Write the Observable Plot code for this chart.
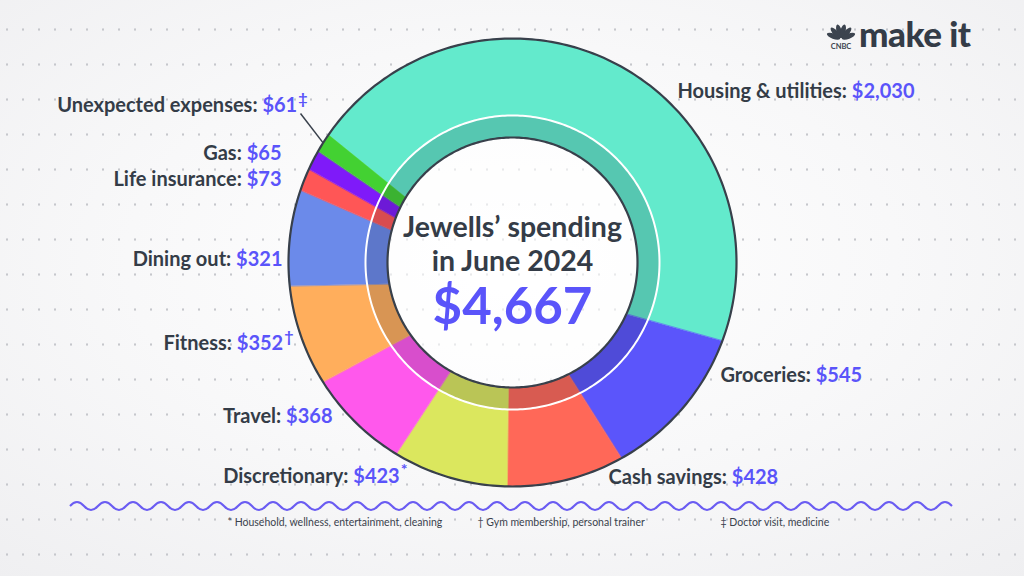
<!DOCTYPE html>
<html><head><meta charset="utf-8">
<script src="https://cdn.jsdelivr.net/npm/d3@7"></script>
<script src="https://cdn.jsdelivr.net/npm/@observablehq/plot@0.6"></script>
<style>
html,body{margin:0;padding:0;}
body{width:1024px;height:576px;overflow:hidden;font-family:Lato,"Open Sans",sans-serif;
 background:radial-gradient(ellipse 75% 75% at 50% 45%, #ffffff 0%, #f8f8f9 50%, #efeff1 100%);}
#wrap{position:relative;width:1024px;height:576px;}
#dots{position:absolute;left:0;top:0;width:1024px;height:576px;
 background-image:radial-gradient(circle, #c6c7cc 0.9px, transparent 1.4px);
 background-size:16px 35px;background-position:-1px 12px;}
#chart{position:absolute;left:0;top:0;}
#deco{position:absolute;left:0;top:0;pointer-events:none;}
#logo{position:absolute;left:826px;top:16px;display:flex;align-items:flex-end;gap:3px;}
#logo .word{font-family:Lato,sans-serif;font-weight:900;font-size:35px;color:#343c47;line-height:34px;letter-spacing:-0.5px;}
</style></head>
<body>
<div id="wrap">
 <div id="dots"></div>
 <div id="chart"></div>
 <svg id="deco" width="1024" height="576"></svg>
 <div id="logo">
  <svg width="30" height="28" viewBox="0 0 30 28" id="peacock"></svg>
  <div class="word">make it</div>
 </div>
</div>
<script>
// ---------------- data ----------------
const categories = ["Housing & utilities","Groceries","Cash savings","Discretionary","Travel","Fitness","Dining out","Life insurance","Gas","Unexpected expenses"];
const amounts = [2030,545,428,423,368,352,321,73,65,61];
const notes = ["","","","*","","†","","","","‡"];
const sliceColors = ["#63eacc","#5b55fb","#ff6858","#dbe75e","#ff58ec","#ffae5c","#6b8aea","#ff5656","#7f1af9","#43d132"];
const titleLines = ["Jewells’ spending","in June 2024"];
const totalLabel = "$4,667";
const footnotes = ["* Household, wellness, entertainment, cleaning","† Gym membership, personal trainer","‡ Doctor visit, medicine"];

// ---------------- layout ----------------
const L = {ringCx:512, ringCy:262, pieCx:509, pieCy:281, rOuter:224, rBand:147, rInner:125, startDeg:-51};
const labelPos = [
 {x:677,y:91,anchor:"start"},{x:720,y:375,anchor:"start"},{x:608,y:477,anchor:"start"},
 {x:407,y:476,anchor:"end"},{x:332,y:416,anchor:"end"},{x:293,y:343,anchor:"end"},
 {x:282,y:259,anchor:"end"},{x:281,y:179,anchor:"end"},{x:281,y:153,anchor:"end"},{x:307,y:105,anchor:"end"}];
const footPos = [{x:227,y:522},{x:477,y:522},{x:720,y:522}];
const dark = "#343c47", violet = "#5a54fa";

// ---------------- geometry ----------------
const total = d3.sum(amounts);
let acc = 0;
const slices = categories.map((c,i)=>{
  const a0 = L.startDeg + acc/total*360; acc += amounts[i];
  const a1 = L.startDeg + acc/total*360;
  return {name:c, a0, a1, color:sliceColors[i]};
});
function hit(deg, r){
  const th = deg*Math.PI/180, dx = Math.sin(th), dy = -Math.cos(th);
  const wx = L.pieCx-L.ringCx, wy = L.pieCy-L.ringCy;
  const b = wx*dx+wy*dy;
  const t = -b + Math.sqrt(b*b-(wx*wx+wy*wy)+r*r);
  return [L.pieCx+t*dx, L.pieCy+t*dy];
}
const slicePts = [];
slices.forEach(s=>{
  const n = Math.max(2, Math.ceil((s.a1-s.a0)/0.5));
  const outer=[], inner=[];
  for(let k=0;k<=n;k++){const a=s.a0+(s.a1-s.a0)*k/n; outer.push(hit(a,L.rOuter)); inner.push(hit(a,L.rInner));}
  [...outer, ...inner.reverse()].forEach(([x,y])=>slicePts.push({name:s.name,color:s.color,x,y}));
});
function circle(r, rev){
  const pts=[]; for(let k=0;k<=360;k++){const a=(rev?360-k:k)*Math.PI/180; pts.push({x:L.ringCx+r*Math.sin(a), y:L.ringCy-r*Math.cos(a)});}
  return pts;
}
const bandPts = [...circle(L.rBand), ...circle(L.rInner,true)];
const ue = slices[9];
const [lx2, ly2] = hit((ue.a0+ue.a1)/2, L.rOuter);
const leader = [{x1:labelPos[9].x-7, y1:labelPos[9].y+8, x2:lx2, y2:ly2}];
const fmt = d3.format("$,");
const labels = categories.map((c,i)=>({i, text:c+": "+fmt(amounts[i])+notes[i], ...labelPos[i]}));
const labelStyle = {x:"x",y:"y",text:"text",fontSize:20,fontWeight:700,fontFamily:"Lato, sans-serif",fill:dark};

const chart = Plot.plot({
  width:1024, height:576, margin:0,
  x:{domain:[0,1024], range:[0,1024], axis:null},
  y:{domain:[0,576], range:[0,576], axis:null},
  color:{type:"identity"},
  style:{background:"transparent", overflow:"visible"},
  marks:[
    Plot.line(slicePts,{x:"x",y:"y",z:"name",fill:"color",stroke:"color",strokeWidth:0.6,curve:"linear-closed"}),
    Plot.line(bandPts,{x:"x",y:"y",fill:"#15202e",fillOpacity:0.17,stroke:"none"}),
    Plot.line(circle(L.rBand),{x:"x",y:"y",stroke:"white",strokeWidth:2,curve:"linear-closed"}),
    Plot.line(circle(L.rOuter),{x:"x",y:"y",stroke:"#38404b",strokeWidth:2.2,curve:"linear-closed"}),
    Plot.line(circle(L.rInner),{x:"x",y:"y",fill:"white",fillOpacity:0.6,stroke:"#38404b",strokeWidth:2.2,curve:"linear-closed"}),
    Plot.link(leader,{x1:"x1",y1:"y1",x2:"x2",y2:"y2",stroke:"#38404b",strokeWidth:1.5}),
    Plot.text(labels.filter(d=>d.anchor==="start"),{...labelStyle,textAnchor:"start"}),
    Plot.text(labels.filter(d=>d.anchor==="end"),{...labelStyle,textAnchor:"end"}),
    Plot.text(titleLines,{x:()=>L.ringCx,y:(d,i)=>227+i*34,text:d=>d,fontSize:28.5,fontWeight:700,fontFamily:"Lato, sans-serif",fill:dark}),
    Plot.text([totalLabel],{x:()=>L.ringCx,y:()=>307,text:d=>d,fontSize:51,fontWeight:700,fontFamily:"Lato, sans-serif",fill:violet}),
    Plot.text(footnotes,{x:(d,i)=>footPos[i].x,y:(d,i)=>footPos[i].y,text:d=>d,textAnchor:"start",fontSize:10.5,fontFamily:"'Liberation Sans Narrow', Lato, sans-serif",fill:"#3a424d"})
  ]
});
// colour the value part of each label
const byText = new Map(labels.map(d=>[d.text,d.i]));
d3.select(chart).selectAll("text").each(function(){
  const i = byText.get(this.textContent);
  if(i===undefined) return;
  const t = d3.select(this); t.text(null);
  t.append("tspan").attr("fill",dark).text(categories[i]+": ");
  t.append("tspan").attr("fill",violet).text(fmt(amounts[i]));
  if(notes[i]) t.append("tspan").attr("fill",violet).attr("font-size","0.8em").attr("dx","1").attr("dy","-0.5em").text(notes[i]);
});
document.getElementById("chart").appendChild(chart);

// decorative wave
const deco = d3.select("#deco");
let p = "M70,506"; let up = true;
for(let x=70; x+14<=956; x+=14){ p += ` Q${x+7},${506+(up?-8:8)} ${x+14},506`; up=!up; }
deco.append("path").attr("d",p).attr("fill","none").attr("stroke","#6a5cf2").attr("stroke-width",2);

// peacock logo
const pk = d3.select("#peacock");
[-70,-42,-14,14,42,70].forEach(a=>{
  pk.append("ellipse").attr("cx",15).attr("cy",9).attr("rx",2.6).attr("ry",7).attr("fill","#3c444f")
    .attr("transform",`rotate(${a},15,17)`);
});
pk.append("text").attr("x",15).attr("y",27).attr("text-anchor","middle").attr("font-size",7.5).attr("font-weight",700)
  .attr("font-family","Lato, sans-serif").attr("fill","#3c444f").text("CNBC");
</script>
</body></html>
